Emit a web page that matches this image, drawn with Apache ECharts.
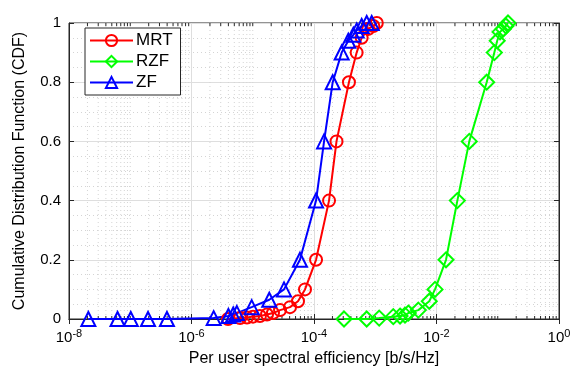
<!DOCTYPE html>
<html>
<head>
<meta charset="utf-8">
<script src="https://cdn.jsdelivr.net/npm/echarts@6/dist/echarts.min.js"></script>
<style>
  html, body { margin: 0; padding: 0; background: #fff; }
  #chart { width: 583px; height: 378px; }
</style>
</head>
<body>
<div id="chart"></div>
<script>
// values
const mrtX = [3.95e-6, 6.2e-6, 8.05e-6, 1.01e-5, 1.31e-5, 1.71e-5, 2.14e-5, 2.79e-5, 4.06e-5, 5.48e-5, 7.13e-5, 1.08e-4, 1.76e-4, 2.33e-4, 3.72e-4, 4.97e-4, 6.0e-4, 7.7e-4, 9.3e-4, 1.06e-3];
const mrtY = [0, 0.003, 0.005, 0.008, 0.01, 0.015, 0.02, 0.03, 0.04, 0.06, 0.1, 0.2, 0.4, 0.6, 0.8, 0.9, 0.95, 0.98, 0.99, 1];
const rzfX = [3.09e-4, 7.25e-4, 1.16e-3, 1.97e-3, 2.54e-3, 3.06e-3, 3.47e-3, 5.05e-3, 7.62e-3, 9.46e-3, 1.43e-2, 2.19e-2, 3.43e-2, 6.6e-2, 8.8e-2, 9.8e-2, 0.109, 0.123, 0.136, 0.147];
const rzfY = [0, 0, 0.003, 0.008, 0.01, 0.013, 0.02, 0.03, 0.06, 0.1, 0.2, 0.4, 0.6, 0.8, 0.9, 0.94, 0.97, 0.98, 0.99, 1];
const zfX = [2.07e-8, 6.2e-8, 1.02e-7, 1.95e-7, 3.97e-7, 2.3e-6, 4.0e-6, 4.8e-6, 5.5e-6, 9.6e-6, 1.86e-5, 3.24e-5, 5.9e-5, 1.08e-4, 1.46e-4, 2.02e-4, 2.83e-4, 3.63e-4, 4.39e-4, 4.98e-4, 6.0e-4, 7.25e-4, 8.75e-4];
const zfY = [0, 0, 0, 0, 0, 0.003, 0.01, 0.015, 0.02, 0.04, 0.065, 0.1, 0.2, 0.4, 0.6, 0.8, 0.9, 0.94, 0.96, 0.975, 0.99, 1, 1];
const seriesNames = ['MRT', 'RZF', 'ZF'];

// minor log ticks (2..9 x 10^k, plus the odd decades that carry no label)
const minorX = [];
for (let k = -8; k < 0; k++) {
  if (Math.abs(k) % 2 === 1) minorX.push(Math.pow(10, k));
  for (let m = 2; m <= 9; m++) minorX.push(m * Math.pow(10, k));
}

const FONT = 'Liberation Sans, Arial, sans-serif';
const zip = (xs, ys) => xs.map((x, i) => [x, ys[i]]);

function lineSeries(name, xs, ys, color, symbol, size) {
  return {
    name: name,
    type: 'line',
    data: zip(xs, ys),
    symbol: symbol,
    symbolSize: size,
    showAllSymbol: true,
    lineStyle: { color: color, width: 2 },
    itemStyle: { color: 'rgba(255,255,255,0)', borderColor: color, borderWidth: 2 },
    z: 5,
    animation: false
  };
}

const myChart = echarts.init(document.getElementById('chart'), null, { renderer: 'canvas' });

const option = {
  animation: false,
  grid: { left: 69, right: 24, top: 23, bottom: 59, show: true, borderColor: '#262626', borderWidth: 1, backgroundColor: '#fff' },
  legend: {
    data: seriesNames,
    orient: 'vertical',
    left: 85,
    top: 28,
    itemWidth: 43,
    itemHeight: 14,
    itemGap: 4,
    padding: [4, 8, 4, 4],
    borderColor: '#262626',
    borderWidth: 1,
    backgroundColor: '#fff',
    lineStyle: { width: 2 },
    textStyle: { fontSize: 17, color: '#000', fontFamily: FONT, padding: [0, 0, 0, -2] }
  },
  xAxis: [
    {
      type: 'log',
      logBase: 10,
      min: 1e-8,
      max: 1,
      interval: 2,
      name: 'Per user spectral efficiency [b/s/Hz]',
      nameLocation: 'middle',
      nameGap: 30,
      nameTextStyle: { fontSize: 16, color: '#000', fontFamily: FONT },
      axisLine: { show: true, lineStyle: { color: '#262626' } },
      axisTick: { show: true, inside: true, length: 5, lineStyle: { color: '#262626' } },
      axisLabel: {
        margin: 9,
        formatter: v => '{b|10}{s|' + Math.round(Math.log10(v)) + '}',
        rich: {
          b: { fontSize: 15, color: '#000', fontFamily: FONT },
          s: { fontSize: 11, color: '#000', fontFamily: FONT, verticalAlign: 'bottom', padding: [0, 0, 9, 0] }
        }
      },
      splitLine: { show: true, lineStyle: { color: '#dedede', width: 1 } }
    },
    {
      type: 'log',
      logBase: 10,
      min: 1e-8,
      max: 1,
      interval: 2,
      position: 'top',
      axisLine: { show: true, lineStyle: { color: '#262626' } },
      axisTick: { show: true, inside: true, length: 5, lineStyle: { color: '#262626' } },
      axisLabel: { show: false },
      splitLine: { show: false }
    }
  ],
  yAxis: [
    {
      type: 'value',
      min: 0,
      max: 1,
      interval: 0.2,
      name: 'Cumulative Distribution Function (CDF)',
      nameLocation: 'middle',
      nameGap: 41,
      nameTextStyle: { fontSize: 16, color: '#000', fontFamily: FONT },
      axisLine: { show: true, lineStyle: { color: '#262626' } },
      axisTick: { show: true, inside: true, length: 5, lineStyle: { color: '#262626' } },
      axisLabel: { fontSize: 15, color: '#000', fontFamily: FONT, margin: 8 },
      splitLine: { show: true, lineStyle: { color: '#dedede', width: 1 } },
      minorTick: { show: false, splitNumber: 4 },
      minorSplitLine: { show: true, lineStyle: { color: '#d4d4d4', width: 1, type: [1, 3] } }
    },
    {
      type: 'value',
      min: 0,
      max: 1,
      interval: 0.2,
      position: 'right',
      axisLine: { show: true, lineStyle: { color: '#262626' } },
      axisTick: { show: true, inside: true, length: 5, lineStyle: { color: '#262626' } },
      axisLabel: { show: false },
      splitLine: { show: false }
    }
  ],
  series: [
    {
      // minor log grid and minor ticks, placed through the axis scale
      type: 'custom',
      silent: true,
      z: 1,
      data: minorX.map(x => [x]),
      renderItem: function (params, api) {
        const x = api.value(0);
        const p0 = api.coord([x, 0]);
        const p1 = api.coord([x, 1]);
        return {
          type: 'group',
          children: [
            { type: 'line', shape: { x1: p0[0], y1: p0[1], x2: p1[0], y2: p1[1] }, style: { stroke: '#d4d4d4', lineWidth: 1, lineDash: [1, 3] } },
            { type: 'line', shape: { x1: p0[0], y1: p0[1], x2: p0[0], y2: p0[1] - 3 }, style: { stroke: '#262626', lineWidth: 1 } },
            { type: 'line', shape: { x1: p1[0], y1: p1[1], x2: p1[0], y2: p1[1] + 3 }, style: { stroke: '#262626', lineWidth: 1 } }
          ]
        };
      }
    },
    lineSeries('MRT', mrtX, mrtY, '#ff0000', 'circle', 12),
    lineSeries('RZF', rzfX, rzfY, '#00ff00', 'diamond', 15),
    lineSeries('ZF', zfX, zfY, '#0000ff', 'triangle', 14)
  ]
};

myChart.setOption(option);
window.onresize = function () {
  myChart.resize();
};
</script>
</body>
</html>
